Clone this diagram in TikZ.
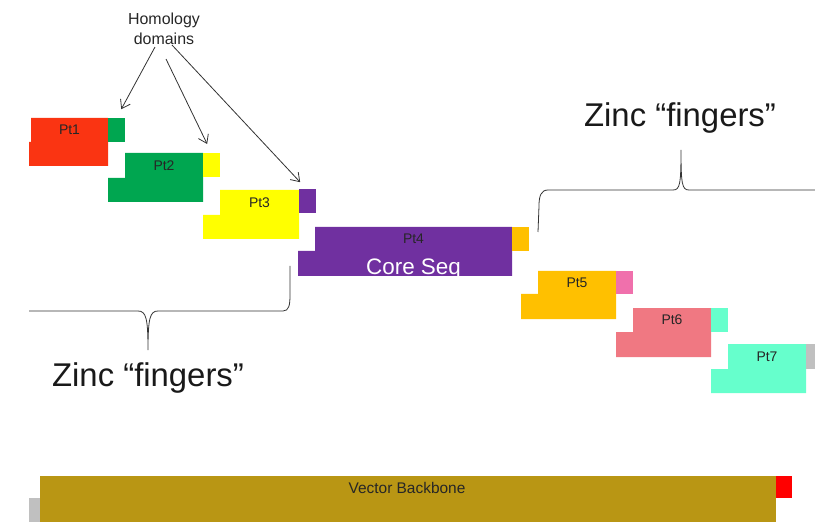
\documentclass[tikz,border=0pt]{standalone}
\usepackage{fontspec}
\setmainfont{Liberation Sans}
\usepackage{tikz}
\usetikzlibrary{arrows.meta}
\usepackage{xcolor}

\definecolor{ptred}{RGB}{250,52,18}
\definecolor{ptgreen}{RGB}{0,166,80}
\definecolor{ptyellow}{RGB}{255,255,0}
\definecolor{ptpurple}{RGB}{112,48,160}
\definecolor{ptorange}{RGB}{255,192,0}
\definecolor{ptpink}{RGB}{240,112,172}
\definecolor{ptsalmon}{RGB}{240,120,130}
\definecolor{ptaqua}{RGB}{102,255,204}
\definecolor{ptgray}{RGB}{192,192,192}
\definecolor{backbone}{RGB}{185,150,20}
\definecolor{bbred}{RGB}{255,0,0}

\tikzset{
  ptlabel/.style={text=black!85, font=\fontsize{14}{16}\selectfont, inner sep=0pt},
  tag/.style={minimum width=17bp, minimum height=24bp, inner sep=0pt, outer sep=0pt},
  homarrow/.style={-{Straight Barb[length=8bp,width=11bp]}, line width=0.8bp, black!80, shorten >=10bp},
  brace/.style={line width=0.8bp, black!80},
  zinc/.style={font=\fontsize{33}{38}\selectfont, text=black!90, inner sep=0pt}
}

\begin{document}
\begin{tikzpicture}[x=1bp, y=-1bp]
\useasboundingbox (0,0) rectangle (815,522);
% protein blocks
\fill[ptred] (31,118) -- (108,118) -- (108,166) -- (29,166) -- (29,142) -- (31,142) -- cycle;
\node[ptlabel] (pt1) at (69.5,130) {Pt1};
\node[tag, fill=ptgreen] (tag1) at (116.5,130) {};
\fill[ptgreen] (125,153) -- (203,153) -- (203,202) -- (108,202) -- (108,178) -- (125,178) -- cycle;
\node[ptlabel] (pt2) at (164,165.5) {Pt2};
\node[tag, fill=ptyellow] (tag2) at (211.5,165) {};
\fill[ptyellow] (220,190) -- (299,190) -- (299,239) -- (203,239) -- (203,215) -- (220,215) -- cycle;
\node[ptlabel] (pt3) at (259.5,202.5) {Pt3};
\node[tag, fill=ptpurple] (tag3) at (307,201.5) {};
\fill[ptpurple] (315,227) -- (512,227) -- (512,276) -- (298,276) -- (298,251) -- (315,251) -- cycle;
\node[ptlabel, anchor=base] (pt4) at (413.5,243.5) {Pt4};
\node[text=white, font=\fontsize{22.5}{24}\selectfont, inner sep=0pt, anchor=base] (core) at (413.5,274.5) {Core Seq};
\node[tag, fill=ptorange] (tag4) at (520.5,239) {};
\fill[ptorange] (538,271) -- (616,271) -- (616,319) -- (521,319) -- (521,294) -- (538,294) -- cycle;
\node[ptlabel] (pt5) at (577,282.5) {Pt5};
\node[tag, fill=ptpink, minimum height=23bp] (tag5) at (624,282.5) {};
\fill[ptsalmon] (633,308) -- (711,308) -- (711,357) -- (616,357) -- (616,332) -- (633,332) -- cycle;
\node[ptlabel] (pt6) at (672,320) {Pt6};
\node[tag, fill=ptaqua] (tag6) at (719.5,320) {};
\fill[ptaqua] (728,344) -- (806,344) -- (806,393) -- (711,393) -- (711,369) -- (728,369) -- cycle;
\node[ptlabel] (pt7) at (767,356.5) {Pt7};
\node[tag, fill=ptgray, minimum width=9bp, minimum height=25bp] (tag7) at (810.5,356.5) {};
% vector backbone
\fill[backbone] (40,476) rectangle (776,522);
\fill[ptgray] (29,498) rectangle (40,522);
\node[tag, fill=bbred, minimum width=16bp, minimum height=22bp] (tagbb) at (784,487) {};
\node[ptlabel, font=\fontsize{15.5}{17}\selectfont, anchor=base] (bb) at (407,493) {Vector Backbone};
% homology domains
\node[align=center, text=black!85, font=\fontsize{16}{20}\selectfont, inner sep=0pt] (hd) at (164,29) {Homology\\domains};
\draw[homarrow] ([xshift=-9bp,yshift=-2bp]hd.south) -- (tag1.north);
\draw[homarrow] ([xshift=2bp,yshift=-14bp]hd.south) -- (tag2.north);
\draw[homarrow] ([xshift=8bp]hd.south) -- (tag3.north);
% zinc fingers braces
\draw[brace] (29,311) -- (138,311) .. controls (146,311) and (148,318) .. (148,350)
  .. controls (148,318) and (150,311) .. (158,311) -- (283,311)
  .. controls (289,311) and (290,305) .. (290,295) -- (290,266);
\node[zinc] (zf1) at (148,378) {Zinc “fingers”};
\draw[brace] (815,190) -- (689,190) .. controls (682,190) and (681,184) .. (681,150)
  .. controls (681,184) and (680,190) .. (673,190) -- (548,190)
  .. controls (541,190) and (539,196) .. (539,206) -- (538,232);
\node[zinc] (zf2) at (680,118) {Zinc “fingers”};
\end{tikzpicture}
\end{document}
